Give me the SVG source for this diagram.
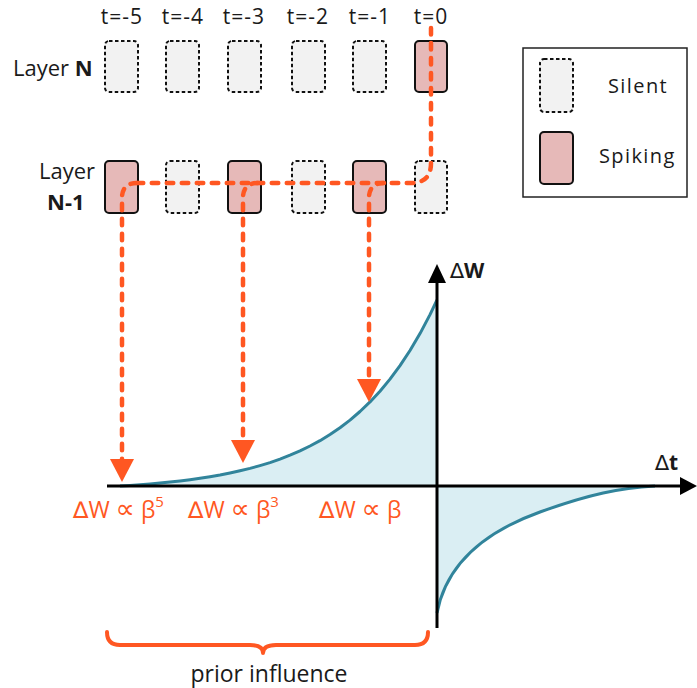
<svg xmlns="http://www.w3.org/2000/svg" width="697" height="688" viewBox="0 0 697 688">
  <style>
    text { font-family: "Open Sans", "DejaVu Sans", sans-serif; fill: #1a1a1a; }
    .silent { fill: #f2f2f2; stroke: #111; stroke-width: 2; stroke-dasharray: 3.5 2.5; }
    .spiking { fill: #e6b9b8; stroke: #111; stroke-width: 2; }
    .tlab { font-size: 21px; letter-spacing: 1px; text-anchor: middle; }
    .layer { font-size: 22px; }
    .legend-txt { font-size: 20px; letter-spacing: 1.4px; }
    .spike-path { fill: none; stroke: #ff5722; stroke-width: 4.5; stroke-dasharray: 6.5 8.5; stroke-linecap: round; }
    .axis { fill: none; stroke: #000; stroke-width: 3; }
    .rel { font-size: 23px; fill: #ff5722; }
    .delta { font-family: "DejaVu Sans", sans-serif; font-weight: normal; }
    .prop { font-family: "DejaVu Sans", sans-serif; font-size: 27px; }
    .axlab { font-size: 21px; font-weight: bold; }
  </style>
  <defs>
    <marker id="drop-head" viewBox="0 0 23 24" markerWidth="23" markerHeight="24" refX="2" refY="12" orient="auto" markerUnits="userSpaceOnUse">
      <path d="M0,0 L23,12 L0,24 Z" fill="#ff5722"/>
    </marker>
  </defs>

  <!-- time labels -->
  <g id="time-labels">
    <text class="tlab" x="122" y="24">t=-5</text>
    <text class="tlab" x="183" y="24">t=-4</text>
    <text class="tlab" x="244" y="24">t=-3</text>
    <text class="tlab" x="308" y="24">t=-2</text>
    <text class="tlab" x="370" y="24">t=-1</text>
    <text class="tlab" x="431" y="24">t=0</text>
  </g>

  <!-- layer labels -->
  <g id="label-layer-n">
    <text class="layer" x="13" y="76">Layer <tspan font-weight="bold">N</tspan></text>
  </g>
  <g id="label-layer-n-1">
    <text class="layer" x="95" y="179" text-anchor="end">Layer</text>
    <text class="layer" x="47" y="210" font-weight="bold">N-1</text>
  </g>

  <!-- layer N neurons -->
  <g id="n-t-5"><rect class="silent" x="105" y="41" width="33" height="51" rx="4"/></g>
  <g id="n-t-4"><rect class="silent" x="166" y="41" width="33" height="51" rx="4"/></g>
  <g id="n-t-3"><rect class="silent" x="228" y="41" width="33" height="51" rx="4"/></g>
  <g id="n-t-2"><rect class="silent" x="292" y="41" width="33" height="51" rx="4"/></g>
  <g id="n-t-1"><rect class="silent" x="353" y="41" width="33" height="51" rx="4"/></g>
  <g id="n-t0"><rect class="spiking" x="415" y="41" width="32" height="51" rx="4"/></g>

  <!-- layer N-1 neurons -->
  <g id="m-t-5"><rect class="spiking" x="105" y="161" width="33" height="52" rx="4"/></g>
  <g id="m-t-4"><rect class="silent" x="166" y="161" width="33" height="52" rx="4"/></g>
  <g id="m-t-3"><rect class="spiking" x="228" y="161" width="33" height="52" rx="4"/></g>
  <g id="m-t-2"><rect class="silent" x="292" y="161" width="33" height="52" rx="4"/></g>
  <g id="m-t-1"><rect class="spiking" x="353" y="161" width="33" height="52" rx="4"/></g>
  <g id="m-t0"><rect class="silent" x="415" y="161" width="32" height="52" rx="4"/></g>

  <!-- legend -->
  <g id="legend">
    <rect x="523" y="48" width="164" height="149" fill="#fff" stroke="#222" stroke-width="1.5"/>
    <rect class="silent" x="540" y="59" width="33" height="53" rx="4"/>
    <rect class="spiking" x="540" y="132" width="33" height="52" rx="4"/>
    <text class="legend-txt" x="608" y="93">Silent</text>
    <text class="legend-txt" x="599" y="163">Spiking</text>
  </g>

  <!-- STDP window plot -->
  <g id="plot">
    <path d="M120,486 L130,485.4 L140,484.7 L150,483.9 L160,483 L170,482 L180,480.9 L190,479.7 L200,478.3 L210,476.7 L220,475 L230,473 L240,470.8 L250,468.4 L260,465.6 L270,462.6 L280,459.1 L290,455.2 L300,450.9 L310,446 L320,440.7 L330,434.5 L340,427.7 L350,420.1 L360,411.5 L370,401.9 L380,391.2 L390,379.1 L400,365.6 L410,350.5 L420,333.6 L430,314.6 L437,300 L437,486 Z" fill="#daeef3"/>
    <path d="M120,486 L130,485.4 L140,484.7 L150,483.9 L160,483 L170,482 L180,480.9 L190,479.7 L200,478.3 L210,476.7 L220,475 L230,473 L240,470.8 L250,468.4 L260,465.6 L270,462.6 L280,459.1 L290,455.2 L300,450.9 L310,446 L320,440.7 L330,434.5 L340,427.7 L350,420.1 L360,411.5 L370,401.9 L380,391.2 L390,379.1 L400,365.6 L410,350.5 L420,333.6 L430,314.6 L437,300" fill="none" stroke="#31849b" stroke-width="3" stroke-linejoin="round"/>
    <path d="M437,486 L437,613 C447,560 490,530 540,512 S620,488 655,486 Z" fill="#daeef3"/>
    <path d="M437,613 C447,560 490,530 540,512 S620,488 655,486" fill="none" stroke="#31849b" stroke-width="3"/>
    <line class="axis" x1="107" y1="486" x2="684" y2="486"/>
    <polygon points="680,477 697,486 680,495" fill="#000"/>
    <line class="axis" x1="437" y1="628" x2="437" y2="280"/>
    <polygon points="428,283 437,264 446,283" fill="#000"/>
    <text class="axlab" x="450" y="278"><tspan class="delta">∆</tspan>W</text>
    <text class="axlab" x="655" y="470"><tspan class="delta">∆</tspan>t</text>
  </g>

  <!-- weight change labels -->
  <g id="relations">
    <text class="rel" x="73" y="518"><tspan class="delta">∆</tspan>W <tspan class="prop">∝</tspan> β<tspan font-size="15" dy="-11">5</tspan></text>
    <text class="rel" x="188" y="518"><tspan class="delta">∆</tspan>W <tspan class="prop">∝</tspan> β<tspan font-size="15" dy="-11">3</tspan></text>
    <text class="rel" x="319" y="518"><tspan class="delta">∆</tspan>W <tspan class="prop">∝</tspan> β</text>
  </g>

  <!-- spike propagation connectors -->
  <g id="connectors">
    <path class="spike-path" d="M431,28 V163 Q431,183 411,183 H137"/>
    <path class="spike-path" d="M137,183 Q122,183 122,198 V461" marker-end="url(#drop-head)"/>
    <path class="spike-path" d="M258,183 Q243,183 243,198 V442" marker-end="url(#drop-head)"/>
    <path class="spike-path" d="M384,183 Q369,183 369,198 V381" marker-end="url(#drop-head)"/>
  </g>

  <!-- prior influence brace -->
  <g id="brace">
    <path d="M107,632 Q107,645 120,645 H250 Q263,645 263,653 Q263,645 276,645 H415 Q428,645 428,632" fill="none" stroke="#ff5722" stroke-width="4" stroke-linecap="round" stroke-linejoin="round"/>
    <text x="269" y="682" font-size="23" text-anchor="middle" fill="#ff5722">prior influence</text>
  </g>
</svg>
